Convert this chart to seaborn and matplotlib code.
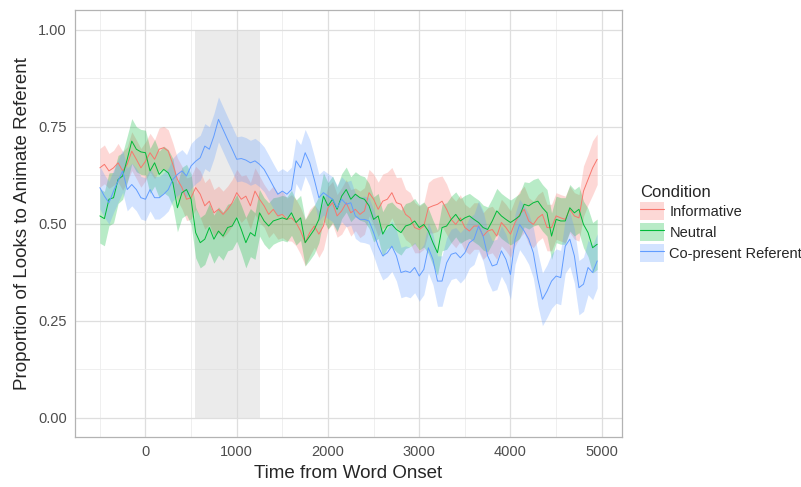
import numpy as np
import pandas as pd
import seaborn as sns
import matplotlib.pyplot as plt
from matplotlib.patches import Patch
from matplotlib.lines import Line2D
from matplotlib.legend_handler import HandlerTuple

# time bins (ms from word onset), 50 ms steps
time_ms = list(range(-500, 5000, 50))

informative = [
    0.644, 0.653, 0.636, 0.644, 0.657, 0.636, 0.653, 0.687, 0.666, 0.644,
    0.661, 0.683, 0.666, 0.692, 0.696, 0.687, 0.653, 0.614, 0.593, 0.563,
    0.567, 0.593, 0.576, 0.546, 0.558, 0.528, 0.537, 0.524, 0.537,
    0.554, 0.580, 0.563, 0.571, 0.546, 0.584, 0.563, 0.546, 0.524, 0.537,
    0.520, 0.524, 0.511, 0.515, 0.503, 0.481, 0.451, 0.477, 0.494, 0.473,
    0.494, 0.541, 0.554, 0.520, 0.533, 0.554, 0.528, 0.537, 0.524,
    0.533, 0.580, 0.563, 0.537, 0.558, 0.563, 0.580, 0.554, 0.550, 0.524,
    0.515, 0.490, 0.485, 0.494, 0.541, 0.546, 0.550, 0.558, 0.537, 0.511,
    0.498, 0.515, 0.490, 0.481, 0.494, 0.494, 0.468, 0.481,
    0.485, 0.468, 0.503, 0.490, 0.473, 0.503, 0.524, 0.537, 0.507, 0.498,
    0.515, 0.524, 0.490, 0.490, 0.520, 0.515, 0.511, 0.537, 0.520, 0.515,
    0.584, 0.614, 0.644, 0.666,
]
neutral = [
    0.520, 0.513, 0.563, 0.567, 0.614, 0.623, 0.666, 0.713, 0.692, 0.685,
    0.683, 0.636, 0.657, 0.627, 0.640, 0.631, 0.606, 0.541, 0.580, 0.588,
    0.563, 0.477, 0.451, 0.460, 0.490, 0.460, 0.481, 0.468, 0.490,
    0.494, 0.515, 0.485, 0.451, 0.477, 0.468, 0.528, 0.507, 0.494, 0.507,
    0.511, 0.515, 0.511, 0.528, 0.503, 0.515, 0.451, 0.468, 0.485, 0.511,
    0.571, 0.546, 0.563, 0.537, 0.571, 0.588, 0.563, 0.576, 0.567,
    0.563, 0.546, 0.511, 0.520, 0.473, 0.494, 0.498, 0.485, 0.477, 0.494,
    0.498, 0.507, 0.490, 0.498, 0.481, 0.451, 0.425, 0.490, 0.494, 0.511,
    0.524, 0.507, 0.515, 0.520, 0.511, 0.503, 0.490, 0.485,
    0.507, 0.533, 0.520, 0.511, 0.503, 0.511, 0.520, 0.550, 0.546, 0.554,
    0.558, 0.541, 0.528, 0.468, 0.511, 0.507, 0.507, 0.541, 0.528, 0.537,
    0.498, 0.477, 0.438, 0.447,
]
copresent = [
    0.593, 0.571, 0.554, 0.584, 0.610, 0.636, 0.588, 0.601, 0.588, 0.567,
    0.563, 0.588, 0.567, 0.567, 0.576, 0.588, 0.614, 0.627, 0.636, 0.623,
    0.649, 0.661, 0.670, 0.700, 0.692, 0.726, 0.769, 0.743, 0.717,
    0.692, 0.666, 0.668, 0.664, 0.657, 0.662, 0.653, 0.640, 0.619, 0.597,
    0.576, 0.584, 0.576, 0.588, 0.662, 0.644, 0.683, 0.657, 0.614, 0.567,
    0.580, 0.571, 0.563, 0.541, 0.563, 0.550, 0.554, 0.520, 0.511,
    0.511, 0.507, 0.477, 0.442, 0.417, 0.425, 0.442, 0.417, 0.374, 0.378,
    0.374, 0.387, 0.365, 0.382, 0.438, 0.408, 0.352, 0.352, 0.399, 0.421,
    0.425, 0.412, 0.425, 0.451, 0.460, 0.494, 0.468, 0.417,
    0.391, 0.395, 0.430, 0.408, 0.369, 0.460, 0.498, 0.481, 0.460, 0.425,
    0.357, 0.305, 0.326, 0.352, 0.365, 0.361, 0.442, 0.460, 0.417, 0.335,
    0.344, 0.387, 0.374, 0.404,
]

# half-widths of the ribbons (standard errors)
informative_se = [
    0.050, 0.050, 0.045, 0.045, 0.050, 0.050, 0.045, 0.050, 0.050, 0.050,
    0.050, 0.050, 0.050, 0.055, 0.055, 0.055, 0.055, 0.055, 0.055, 0.055,
    0.055, 0.055, 0.060, 0.060, 0.060, 0.060, 0.060, 0.060, 0.060, 0.060,
    0.060, 0.060, 0.055, 0.060, 0.060, 0.060, 0.055, 0.060, 0.060, 0.060,
    0.060, 0.055, 0.060, 0.060, 0.060, 0.060, 0.060, 0.055, 0.060, 0.060,
    0.055, 0.055, 0.055, 0.060, 0.060, 0.060, 0.055, 0.060, 0.060, 0.060,
    0.065, 0.070, 0.070, 0.070, 0.065, 0.065, 0.070, 0.065, 0.065, 0.065,
    0.060, 0.060, 0.065, 0.070, 0.070, 0.065, 0.065, 0.060, 0.060, 0.060,
    0.060, 0.060, 0.060, 0.060, 0.060, 0.060, 0.060, 0.060, 0.060, 0.060,
    0.060, 0.060, 0.060, 0.060, 0.060, 0.060, 0.060, 0.060, 0.060, 0.060,
    0.060, 0.060, 0.060, 0.060, 0.060, 0.060, 0.065, 0.065, 0.070, 0.065,
]
neutral_se = [
    0.070, 0.070, 0.068, 0.065, 0.062, 0.060, 0.060, 0.058, 0.058, 0.058,
    0.058, 0.058, 0.060, 0.060, 0.060, 0.060, 0.062, 0.062, 0.065, 0.065,
    0.065, 0.065, 0.065, 0.065, 0.062, 0.062, 0.062, 0.062, 0.060, 0.060,
    0.060, 0.062, 0.065, 0.062, 0.060, 0.060, 0.060, 0.060, 0.060, 0.058,
    0.058, 0.058, 0.058, 0.058, 0.058, 0.060, 0.062, 0.062, 0.060, 0.060,
    0.060, 0.060, 0.058, 0.058, 0.058, 0.058, 0.058, 0.058, 0.058, 0.058,
    0.058, 0.058, 0.058, 0.058, 0.058, 0.058, 0.058, 0.058, 0.058, 0.058,
    0.058, 0.058, 0.058, 0.058, 0.058, 0.060, 0.060, 0.060, 0.058, 0.058,
    0.058, 0.058, 0.058, 0.058, 0.058, 0.058, 0.058, 0.058, 0.058, 0.058,
    0.058, 0.058, 0.058, 0.058, 0.060, 0.060, 0.060, 0.060, 0.060, 0.060,
    0.060, 0.060, 0.060, 0.060, 0.060, 0.060, 0.060, 0.062, 0.065, 0.065,
]
copresent_se = [
    0.055, 0.055, 0.055, 0.055, 0.055, 0.055, 0.055, 0.055, 0.055, 0.055,
    0.055, 0.055, 0.055, 0.055, 0.055, 0.055, 0.055, 0.055, 0.055, 0.055,
    0.058, 0.058, 0.058, 0.058, 0.058, 0.058, 0.058, 0.058, 0.058, 0.058,
    0.058, 0.058, 0.058, 0.058, 0.058, 0.058, 0.058, 0.058, 0.058, 0.058,
    0.058, 0.058, 0.058, 0.058, 0.060, 0.060, 0.060, 0.060, 0.060, 0.058,
    0.058, 0.058, 0.058, 0.058, 0.058, 0.058, 0.058, 0.058, 0.060, 0.060,
    0.060, 0.060, 0.062, 0.062, 0.065, 0.065, 0.065, 0.065, 0.065, 0.065,
    0.065, 0.065, 0.065, 0.065, 0.065, 0.065, 0.065, 0.065, 0.065, 0.065,
    0.065, 0.065, 0.065, 0.065, 0.065, 0.065, 0.065, 0.065, 0.065, 0.065,
    0.065, 0.065, 0.065, 0.065, 0.065, 0.065, 0.068, 0.068, 0.068, 0.070,
    0.070, 0.070, 0.070, 0.070, 0.070, 0.070, 0.070, 0.070, 0.070, 0.070,
]

conditions = ['Informative', 'Neutral', 'Co-present Referent']
colors = ['#F8766D', '#00BA38', '#619CFF']
window = (540, 1250)  # shaded region

frames = []
for cond, mean, se in zip(conditions, [informative, neutral, copresent],
                          [informative_se, neutral_se, copresent_se]):
    frames.append(pd.DataFrame({'time': time_ms, 'prop': mean, 'se': se,
                                'Condition': cond}))
df = pd.concat(frames, ignore_index=True)

sns.set_style('whitegrid')
plt.rcParams['font.family'] = ['Liberation Sans', 'DejaVu Sans']

fig = plt.figure(figsize=(8.01, 4.87), dpi=100)
ax = fig.add_axes([0.0936, 0.1027, 0.683, 0.876])

# grid like ggplot's theme_light
ax.set_xticks([0, 1000, 2000, 3000, 4000, 5000])
ax.set_xticks([-500, 500, 1500, 2500, 3500, 4500], minor=True)
ax.set_yticks([0, 0.25, 0.5, 0.75, 1.0])
ax.set_yticks([0.125, 0.375, 0.625, 0.875], minor=True)
ax.grid(which='major', color='#DEDEDE', linewidth=0.9)
ax.grid(which='minor', color='#EDEDED', linewidth=0.6)
ax.set_axisbelow(True)

ax.fill_between(window, 0, 1, color='#D9D9D9', alpha=0.5, linewidth=0, zorder=1)

for cond, col in zip(conditions, colors):
    sub = df[df['Condition'] == cond]
    ax.fill_between(sub['time'], sub['prop'] - sub['se'], sub['prop'] + sub['se'],
                    color=col, alpha=0.28, linewidth=0, zorder=2)

sns.lineplot(data=df, x='time', y='prop', hue='Condition', palette=colors,
             hue_order=conditions, linewidth=0.7, ax=ax, legend=False, zorder=3)

ax.set_xlim(-772.5, 5222.5)
ax.set_ylim(-0.05, 1.05)
ax.set_yticklabels(['0.00', '0.25', '0.50', '0.75', '1.00'])
ax.tick_params(axis='both', which='major', labelsize=10.5, labelcolor='#4D4D4D',
               length=3, color='#B3B3B3', pad=3)
ax.tick_params(which='minor', length=0)
for sp in ax.spines.values():
    sp.set_color('#B3B3B3')
    sp.set_linewidth(0.9)

ax.set_xlabel('Time from Word Onset', fontsize=13.5, labelpad=4)
ax.set_ylabel('Proportion of Looks to Animate Referent', fontsize=13.5, labelpad=5)

handles = [(Patch(facecolor=c, alpha=0.28, edgecolor='none'),
            Line2D([], [], color=c, linewidth=0.8)) for c in colors]
leg = fig.legend(handles, conditions, title='Condition',
                 handler_map={tuple: HandlerTuple(ndivide=1)},
                 loc='upper left', bbox_to_anchor=(0.792, 0.633),
                 frameon=False, fontsize=10.5, title_fontsize=12,
                 handlelength=1.6, handleheight=1.6, handletextpad=0.4,
                 labelspacing=0.15, borderaxespad=0)
leg._legend_box.align = 'left'

fig.savefig('out.png', dpi=100)
